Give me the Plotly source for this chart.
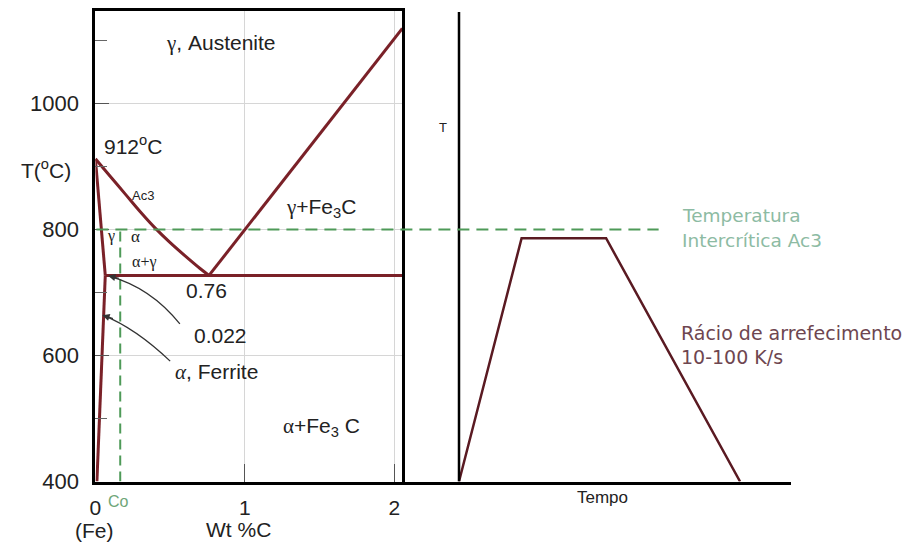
import plotly.graph_objects as go

# ---------------- data ----------------
# Fe-C phase diagram boundaries (wt %C, T in °C)
a3_c = [0.0, 0.1, 0.2, 0.3, 0.4, 0.5, 0.6, 0.7, 0.76]
a3_t = [912, 884, 856, 828, 802, 779, 758, 738, 727]
acm_c = [0.76, 2.053]
acm_t = [727, 1119]
gamma_solvus_c = [0.0, 0.066]
gamma_solvus_t = [912, 727]
ferrite_solvus_c = [0.066, 0.01]
ferrite_solvus_t = [727, 400]
eutectoid_c = [0.066, 2.053]
eutectoid_t = [727, 727]
ac3_temp = 800
co_c = 0.166

# heat-treatment cycle (time in arbitrary units, T in °C)
cycle_time = [0.0, 1.0, 2.35, 4.49]
cycle_temp = [400, 786, 786, 400]

x_ticks = [0, 1, 2]
x_tick_text = ["0", "1", "2"]
y_ticks = [400, 600, 800, 1000]
y_tick_text = ["400", "600", "800", "1000"]

RED = "#7a2128"
GREEN = "#4e9a58"
W, H = 904, 558
SERIF = "Liberation Serif, Times New Roman, serif"


def px(x):
    return x / W


def py(y):
    return 1 - y / H


def serif(s, italic=False):
    out = f'<span style="font-family:Liberation Serif, Times New Roman, serif">{s}</span>'
    return f"<i>{out}</i>" if italic else out


fig = go.Figure()

line_style = dict(color=RED, width=3)
for cx, ty in [(a3_c, a3_t), (acm_c, acm_t), (gamma_solvus_c, gamma_solvus_t),
               (ferrite_solvus_c, ferrite_solvus_t), (eutectoid_c, eutectoid_t)]:
    fig.add_trace(go.Scatter(x=cx, y=ty, mode="lines", line=line_style,
                             line_shape="spline" if len(cx) > 2 else "linear",
                             hoverinfo="skip", showlegend=False))

# Co vertical dashed line
fig.add_trace(go.Scatter(x=[co_c, co_c], y=[400, ac3_temp], mode="lines",
                         line=dict(color=GREEN, width=2, dash="10px,6px"),
                         hoverinfo="skip", showlegend=False))

# cooling cycle
fig.add_trace(go.Scatter(x=cycle_time, y=cycle_temp, xaxis="x2", yaxis="y2",
                         mode="lines", line=dict(color="#5a1a22", width=2.5),
                         hoverinfo="skip", showlegend=False))

fig.update_layout(
    width=W, height=H,
    margin=dict(l=0, r=0, t=0, b=0),
    paper_bgcolor="white", plot_bgcolor="white",
    font=dict(family="Liberation Sans, Arial, sans-serif", color="#222", size=21),
    xaxis=dict(domain=[px(90), px(399)], range=[0, 2.053],
               tickvals=x_ticks, ticktext=x_tick_text,
               showgrid=True, gridcolor="#d6d6d6", gridwidth=1,
               ticks="inside", ticklen=18, tickcolor="#555", tickwidth=1,
               showline=True, linecolor="black", linewidth=3, mirror=True,
               zeroline=False, ticklabelstandoff=5,
               tickfont=dict(size=21, color="#222"), fixedrange=True),
    yaxis=dict(domain=[py(493), py(11)], range=[400, 1147],
               tickvals=y_ticks, ticktext=y_tick_text,
               showgrid=True, gridcolor="#d6d6d6", gridwidth=1,
               ticks="inside", ticklen=14, tickcolor="#555", tickwidth=1,
               minor=dict(dtick=100, tick0=0, ticks="inside", ticklen=12,
                          tickcolor="#666", showgrid=False),
               showline=True, linecolor="black", linewidth=3, mirror=True,
               zeroline=False, ticklabelstandoff=9,
               tickfont=dict(size=22, color="#222"), fixedrange=True),
    xaxis2=dict(domain=[px(399), px(790)], range=[-0.905, 5.30], anchor="y2",
                showgrid=False, zeroline=False, showticklabels=False, ticks="",
                showline=True, linecolor="black", linewidth=2.5, fixedrange=True),
    yaxis2=dict(domain=[py(493), py(11)], range=[400, 1147], anchor="x2",
                matches="y", showgrid=False, zeroline=False, showline=False,
                showticklabels=False, ticks="", fixedrange=True),
)

# right panel temperature axis (vertical line at t=0)
fig.add_shape(type="line", xref="x2", yref="y2", x0=0, x1=0, y0=400, y1=1145,
              line=dict(color="black", width=2.5))

# Ac3 horizontal dashed line spanning both panels
fig.add_shape(type="line", xref="paper", yref="y", x0=px(91), x1=px(657),
              y0=ac3_temp, y1=ac3_temp,
              line=dict(color=GREEN, width=2, dash="12px,7px"))

# curved arrows
fig.add_shape(type="path", xref="x", yref="y",
              path="M 0.565,650 Q 0.37,708 0.09,726",
              line=dict(color="#333", width=1.3))
fig.add_shape(type="path", xref="x", yref="y",
              path="M 0.50,591 Q 0.27,643 0.05,664",
              line=dict(color="#333", width=1.3))
for (x, y, ax, ay) in [(0.086, 726.5, 12, 3), (0.047, 664, 12, 4)]:
    fig.add_annotation(x=x, y=y, xref="x", yref="y", ax=ax, ay=ay, text="",
                       showarrow=True, arrowhead=2, arrowsize=1.1,
                       arrowwidth=1.3, arrowcolor="#333")

labels = [
    (serif("γ") + ", Austenite", 0.837, 1096, 21, None, "center"),
    ("912<sup>o</sup>C", 0.045, 934, 21, None, "left"),
    ("Ac3", 0.32, 854, 13, None, "center"),
    (serif("γ") + "+Fe<sub>3</sub>C", 1.51, 834, 21, None, "center"),
    ("γ", 0.105, 790, 16, SERIF, "center"),
    ("α", 0.268, 788, 17, SERIF, "center"),
    ("α+γ", 0.325, 749, 16, SERIF, "center"),
    ("0.76", 0.744, 703, 21, None, "center"),
    ("0.022", 0.84, 632, 21, None, "center"),
    (serif("α", italic=True) + ", Ferrite", 0.81, 573, 21, None, "center"),
    (serif("α") + "+Fe<sub>3</sub> C", 1.51, 486, 21, None, "center"),
]
for text, x, y, size, fam, anchor in labels:
    f = dict(size=size, color="#222")
    if fam:
        f["family"] = fam
    fig.add_annotation(x=x, y=y, xref="x", yref="y", text=text, showarrow=False,
                       xanchor=anchor, yanchor="middle", font=f)

# axis texts (paper coordinates)
paper_labels = [
    ("T(<sup>o</sup>C)", 40, 173, 21, "#222", None, "center"),
    ("Co", 113, 513, 16, "#6fa678", None, "center"),
    ("(Fe)", 89, 543, 21, "#222", None, "center"),
    ("Wt %C", 234, 542, 21, "#222", None, "center"),
    ("T", 440, 131, 13, "#222", None, "center"),
    ("Tempo", 600, 509, 17, "#222", None, "center"),
    ("Temperatura", 678, 221, 18.5, "#8dbba3", "DejaVu Sans", "left"),
    ("Intercrítica Ac3", 678, 246, 18.5, "#8dbba3", "DejaVu Sans", "left"),
    ("Rácio de arrefecimento", 677, 341, 19, "#6e4650", "DejaVu Sans", "left"),
    ("10-100 K/s", 677, 366, 19, "#6e4650", "DejaVu Sans", "left"),
]
for text, x, y, size, color, fam, anchor in paper_labels:
    f = dict(size=size, color=color)
    if fam:
        f["family"] = fam
    fig.add_annotation(x=px(x), y=py(y), xref="paper", yref="paper", text=text,
                       showarrow=False, xanchor=anchor, yanchor="middle", font=f)

fig.write_html("out.html")
